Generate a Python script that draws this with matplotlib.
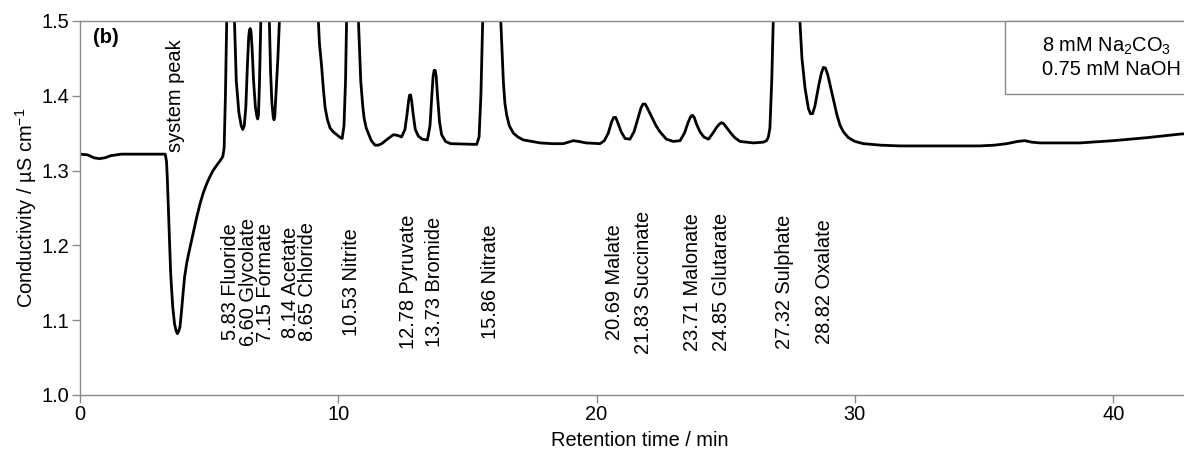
import matplotlib
matplotlib.use("Agg")
import matplotlib.pyplot as plt
from matplotlib.patches import Rectangle

plt.rcParams['font.family'] = ['Liberation Sans', 'DejaVu Sans']
plt.rcParams['font.size'] = 14.4

# Chromatogram trace: retention time (min) and conductivity (µS/cm)
time_min = [
    0.00, 0.30, 0.55, 0.75, 0.95, 1.20, 1.60, 2.50, 3.30,
    3.35, 3.38, 3.42, 3.47, 3.51, 3.54, 3.59, 3.66, 3.72, 3.77, 3.83, 3.87, 3.93,
    4.00, 4.05, 4.13, 4.20, 4.32, 4.52, 4.65, 4.77, 4.90, 5.03, 5.15, 5.29,
    5.40, 5.48, 5.53, 5.58, 5.63, 5.68, 5.83, 5.98, 6.05, 6.15, 6.24, 6.30, 6.36,
    6.42, 6.48, 6.53, 6.56, 6.59, 6.62, 6.66, 6.72, 6.79, 6.85, 6.88, 6.91, 6.95, 7.00,
    7.15, 7.33, 7.38, 7.43, 7.48, 7.51, 7.54, 7.60, 7.66, 7.72, 8.14, 8.65,
    9.23, 9.27, 9.35, 9.42, 9.49, 9.58, 9.68, 9.80, 9.94, 10.08, 10.15,
    10.22, 10.28, 10.32, 10.53, 10.78, 10.87, 10.95, 11.00, 11.08, 11.16,
    11.28, 11.42, 11.55, 11.68, 11.90, 12.13, 12.30, 12.45, 12.58, 12.66,
    12.72, 12.76, 12.80, 12.84, 12.90, 12.98, 13.10, 13.25, 13.45, 13.55, 13.62,
    13.67, 13.71, 13.75, 13.79, 13.84, 13.92, 14.00, 14.15, 14.35, 15.36, 15.45,
    15.52, 15.59, 15.86, 16.29, 16.39, 16.45, 16.52, 16.62, 16.78, 16.95,
    17.16, 17.50, 17.81, 18.30, 18.71, 18.90, 19.10, 19.30, 19.60, 20.13,
    20.30, 20.45, 20.58, 20.66, 20.74, 20.82, 20.95, 21.10, 21.29, 21.45, 21.60,
    21.72, 21.80, 21.88, 21.96, 22.10, 22.30, 22.45, 22.70, 22.97, 23.23, 23.40,
    23.55, 23.64, 23.71, 23.78, 23.87, 24.00, 24.15, 24.33, 24.50, 24.65, 24.75,
    24.83, 24.91, 25.00, 25.20, 25.35, 25.55, 26.07, 26.45, 26.58, 26.65, 26.71,
    26.78, 26.84, 27.32, 27.87, 27.95, 28.07, 28.20, 28.28, 28.36, 28.45, 28.60,
    28.70, 28.78, 28.86, 28.95, 29.05, 29.16, 29.30, 29.42, 29.55, 29.75, 30.00,
    30.33, 31.00, 31.75, 32.25, 33.55, 34.84, 35.40, 35.88, 36.30, 36.58,
    36.85, 37.17, 38.71, 40.00, 41.30, 42.64, 43.40,
]
conductivity = [
    1.322, 1.321, 1.317, 1.316, 1.317, 1.320, 1.322, 1.322, 1.322,
    1.312, 1.290, 1.252, 1.205, 1.163, 1.145, 1.118, 1.095, 1.086, 1.082, 1.086, 1.091, 1.112,
    1.140, 1.158, 1.176, 1.188, 1.207, 1.238, 1.256, 1.270, 1.282, 1.292, 1.300, 1.307,
    1.312, 1.316, 1.319, 1.330, 1.400, 1.500, 1.620, 1.500, 1.420, 1.378, 1.360, 1.355, 1.360,
    1.385, 1.440, 1.478, 1.488, 1.490, 1.486, 1.465, 1.420, 1.385, 1.372, 1.369, 1.375, 1.420, 1.500,
    1.600, 1.500, 1.430, 1.390, 1.372, 1.368, 1.372, 1.410, 1.450, 1.500, 1.900, 1.900,
    1.500, 1.470, 1.441, 1.410, 1.384, 1.368, 1.357, 1.352, 1.348, 1.344, 1.343,
    1.360, 1.420, 1.500, 1.900, 1.500, 1.419, 1.385, 1.370, 1.357, 1.350,
    1.340, 1.334, 1.334, 1.336, 1.342, 1.348, 1.347, 1.345, 1.355, 1.375,
    1.393, 1.401, 1.401, 1.393, 1.375, 1.355, 1.346, 1.342, 1.341, 1.360, 1.400,
    1.426, 1.434, 1.434, 1.426, 1.400, 1.365, 1.348, 1.339, 1.336, 1.335, 1.345,
    1.400, 1.500, 2.000, 1.500, 1.419, 1.390, 1.374, 1.360, 1.350, 1.345,
    1.341, 1.339, 1.337, 1.336, 1.336, 1.338, 1.340, 1.339, 1.337, 1.336,
    1.340, 1.350, 1.365, 1.371, 1.371, 1.364, 1.352, 1.343, 1.342, 1.352, 1.370,
    1.384, 1.389, 1.389, 1.384, 1.374, 1.360, 1.352, 1.342, 1.339, 1.340, 1.350,
    1.365, 1.372, 1.374, 1.371, 1.362, 1.352, 1.345, 1.342, 1.350, 1.358, 1.362,
    1.364, 1.363, 1.359, 1.350, 1.344, 1.339, 1.337, 1.338, 1.340, 1.345, 1.357,
    1.420, 1.500, 2.200, 1.500, 1.450, 1.410, 1.383, 1.376, 1.376, 1.386, 1.414,
    1.430, 1.438, 1.437, 1.428, 1.413, 1.397, 1.375, 1.361, 1.352, 1.344, 1.339,
    1.336, 1.334, 1.333, 1.333, 1.333, 1.333, 1.334, 1.336, 1.339, 1.340,
    1.338, 1.337, 1.337, 1.340, 1.344, 1.349, 1.350,
]

# Peak annotations
peak_times = [5.83, 6.60, 7.15, 8.14, 8.65, 10.53, 12.78, 13.73, 15.86,
              20.69, 21.83, 23.71, 24.85, 27.32, 28.82]
peak_names = ["Fluoride", "Glycolate", "Formate", "Acetate", "Chloride",
              "Nitrite", "Pyruvate", "Bromide", "Nitrate", "Malate",
              "Succinate", "Malonate", "Glutarate", "Sulphate", "Oxalate"]
# small horizontal nudges so crowded labels do not collide
label_nudge = [0.0, -0.06, 0.05, 0.0, 0.15, 0.0, -0.05, 0.0, 0.05,
               0.0, 0.0, 0.0, 0.0, -0.05, 0.0]

eluent_lines = ["8 mM Na$\\mathregular{_2}$CO$\\mathregular{_3}$",
                "0.75 mM NaOH"]

W, H = 1184, 451
FS = 14.4
fig = plt.figure(figsize=(W / 100, H / 100), dpi=100)
ax_left, ax_right = 80 / W, 1200 / W
ax_bottom, ax_top = 1 - 395 / H, 1 - 21 / H
ax = fig.add_axes([ax_left, ax_bottom, ax_right - ax_left, ax_top - ax_bottom])

ax.plot(time_min, conductivity, color="black", lw=2.0,
        solid_joinstyle="round", solid_capstyle="round")

ax.set_xlim(0, 43.36)
ax.set_ylim(1.0, 1.5)
ax.set_xticks([0, 10, 20, 30, 40])
ax.set_yticks([1.0, 1.1, 1.2, 1.3, 1.4, 1.5])
ax.set_yticklabels(["1.0", "1.1", "1.2", "1.3", "1.4", "1.5"])

spine_grey = "#8a8a8a"
for side in ["left", "bottom", "top"]:
    ax.spines[side].set_color(spine_grey)
    ax.spines[side].set_linewidth(1.0)
ax.spines["right"].set_visible(False)
ax.tick_params(axis="both", direction="out", length=6, width=1.0,
               color=spine_grey, labelsize=FS, labelcolor="black")
ax.tick_params(axis="x", pad=1)
ax.tick_params(axis="y", pad=2)

ax.set_xlabel("Retention time / min", fontsize=FS, labelpad=5)
ax.set_ylabel("Conductivity / µS cm$^{\\mathregular{-1}}$", fontsize=FS, labelpad=1.5)

for t, name, dx in zip(peak_times, peak_names, label_nudge):
    ax.text(t + dx, 1.151, f"{t:.2f} {name}", rotation=90,
            ha="center", va="center", fontsize=FS)

ax.text(3.70, 1.40, "system peak", rotation=90, ha="center", va="center",
        fontsize=FS)
ax.text(0.99, 1.478, "(b)", ha="center", va="center", fontsize=FS,
        fontweight="bold")

# eluent box in the upper right corner
box = Rectangle((35.81, 1.4024), 10.0, 0.0976, facecolor="white",
                edgecolor=spine_grey, lw=1.0, zorder=3, clip_on=False)
ax.add_patch(box)
ax.text(37.24, 1.4656, eluent_lines[0], ha="left", va="center",
        fontsize=FS, zorder=4)
ax.text(37.24, 1.4345, eluent_lines[1], ha="left", va="center",
        fontsize=FS, zorder=4)

fig.savefig("out.png", dpi=100)
